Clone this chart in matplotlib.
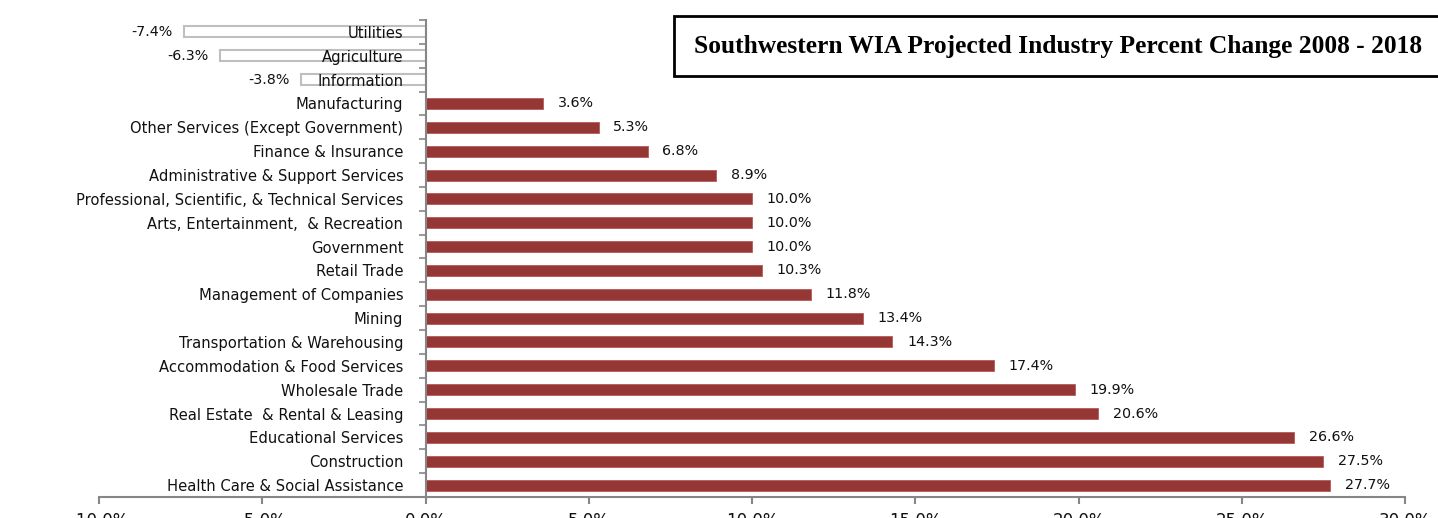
import matplotlib
matplotlib.use("Agg")
import matplotlib.pyplot as plt
from matplotlib.ticker import FuncFormatter, MultipleLocator, FixedLocator
from matplotlib.patches import Rectangle

categories = [
    "Utilities", "Agriculture", "Information", "Manufacturing",
    "Other Services (Except Government)", "Finance & Insurance",
    "Administrative & Support Services",
    "Professional, Scientific, & Technical Services",
    "Arts, Entertainment,  & Recreation", "Government", "Retail Trade",
    "Management of Companies", "Mining", "Transportation & Warehousing",
    "Accommodation & Food Services", "Wholesale Trade",
    "Real Estate  & Rental & Leasing", "Educational Services",
    "Construction", "Health Care & Social Assistance",
]
values = [-7.4, -6.3, -3.8, 3.6, 5.3, 6.8, 8.9, 10.0, 10.0, 10.0, 10.3,
          11.8, 13.4, 14.3, 17.4, 19.9, 20.6, 26.6, 27.5, 27.7]
title = "Southwestern WIA Projected Industry Percent Change 2008 - 2018"

W, H = 1438, 518
fig = plt.figure(figsize=(W / 100, H / 100), dpi=100)
ax = fig.add_axes([99 / W, 1 - 497 / H, (1405 - 99) / W, (497 - 20) / H])

n = len(categories)
ypos = list(range(n))
pos_color = "#953735"
TXT = "#111111"
FAM = "DejaVu Sans"
for y, v in zip(ypos, values):
    if v >= 0:
        ax.barh(y, v, height=0.46, color=pos_color, edgecolor="#b65a58", linewidth=0.6)
        ax.text(v + 0.45, y, f"{v:.1f}%", va="center", ha="left",
                fontsize=10.3, family=FAM, color=TXT)
    else:
        ax.barh(y, v, height=0.46, color="white", edgecolor="#bfbfbf", linewidth=1.5)
        ax.text(v - 0.35, y, f"{v:.1f}%", va="center", ha="right",
                fontsize=10.3, family=FAM, color=TXT)

ax.set_ylim(n - 0.5, -0.5)
ax.set_xlim(-10, 30)
ax.set_yticks(ypos)
ax.set_yticklabels(categories)
ax.yaxis.set_minor_locator(FixedLocator([i - 0.5 for i in range(n + 1)]))
ax.xaxis.set_major_locator(MultipleLocator(5))
ax.xaxis.set_major_formatter(FuncFormatter(lambda x, p: f"{x:.1f}%"))

for s in ["top", "right"]:
    ax.spines[s].set_visible(False)
ax.spines["left"].set_position(("data", 0))
for s in ["left", "bottom"]:
    ax.spines[s].set_color("#868686")
    ax.spines[s].set_linewidth(1.5)
ax.tick_params(axis="y", which="major", length=0, pad=16, labelsize=10.6,
               labelcolor=TXT)
ax.tick_params(axis="y", which="minor", length=5, width=1.2, color="#868686")
ax.tick_params(axis="x", length=5, width=1.5, color="#868686", pad=6,
               labelsize=12, labelcolor=TXT)
for lab in ax.get_xticklabels() + ax.get_yticklabels():
    lab.set_family(FAM)
ax.set_facecolor("none")

fig.patches.append(Rectangle((674 / W, 1 - 76 / H), (1445 - 674) / W, 60 / H,
                             transform=fig.transFigure, facecolor="white",
                             edgecolor="black", linewidth=2, zorder=5))
fig.text(1058 / W, 1 - 47 / H, title, ha="center", va="center",
         fontsize=18.4, family="Liberation Serif", fontweight="bold", zorder=6)

fig.savefig("out.png", dpi=100)
